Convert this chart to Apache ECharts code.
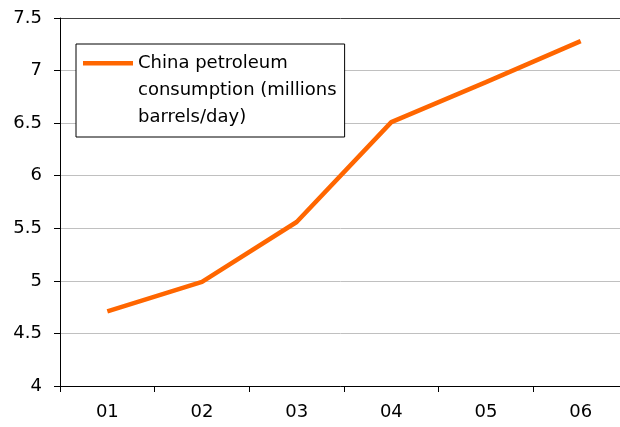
<!DOCTYPE html>
<html>
<head>
<meta charset="utf-8">
<script src="https://cdn.jsdelivr.net/npm/echarts@6/dist/echarts.min.js"></script>
<style>
  html, body { margin: 0; padding: 0; background: #fff; }
  #chart { width: 620px; height: 427px; }
</style>
</head>
<body>
<div id="chart"></div>
<script>
const years = ['01', '02', '03', '04', '05', '06'];
const consumption = [4.71, 4.99, 5.56, 6.51, 6.89, 7.28];
const seriesName = 'China petroleum\nconsumption (millions\nbarrels/day)';

const font = 'DejaVu Sans';
const chart = echarts.init(document.getElementById('chart'));

// last split line (7.5) is drawn darker, like the plot top edge
const gridColors = ['#c0c0c0', '#c0c0c0', '#c0c0c0', '#c0c0c0', '#c0c0c0', '#c0c0c0', '#c0c0c0', '#404040'];

chart.setOption({
  animation: false,
  backgroundColor: '#fff',
  // plot runs a little past the right edge of the picture
  grid: { left: 60, top: 18, right: -8, bottom: 41, outerBoundsMode: 'none', containLabel: false },
  legend: {
    left: 76,
    top: 44,
    padding: [6, 8, 6, 7],
    borderColor: '#000',
    borderWidth: 1,
    backgroundColor: '#fff',
    itemWidth: 50,
    itemHeight: 81,
    icon: 'path://M0,11H50V15.5H0ZM0,0M50,81',
    itemStyle: { borderWidth: 0 },
    textStyle: { fontFamily: font, fontSize: 18, lineHeight: 27, color: '#000' },
    selectedMode: false
  },
  xAxis: {
    type: 'category',
    data: years,
    boundaryGap: true,
    axisLine: { lineStyle: { color: '#000', width: 1 } },
    axisTick: { show: true, length: 6, lineStyle: { color: '#000' } },
    axisLabel: { margin: 17, fontFamily: font, fontSize: 18, color: '#000' },
    splitLine: { show: false }
  },
  yAxis: {
    type: 'value',
    min: 4,
    max: 7.5,
    interval: 0.5,
    axisLine: { show: true, lineStyle: { color: '#000', width: 1 } },
    axisTick: { show: true, length: 6, lineStyle: { color: '#000' } },
    axisLabel: { margin: 18, fontFamily: font, fontSize: 18, color: '#000' },
    splitLine: { show: true, lineStyle: { color: gridColors, width: 1 } }
  },
  series: [{
    name: seriesName,
    type: 'line',
    data: consumption,
    showSymbol: false,
    symbol: 'none',
    color: '#ff6600',
    lineStyle: { color: '#ff6600', width: 4.5 }
  }]
});
</script>
</body>
</html>
